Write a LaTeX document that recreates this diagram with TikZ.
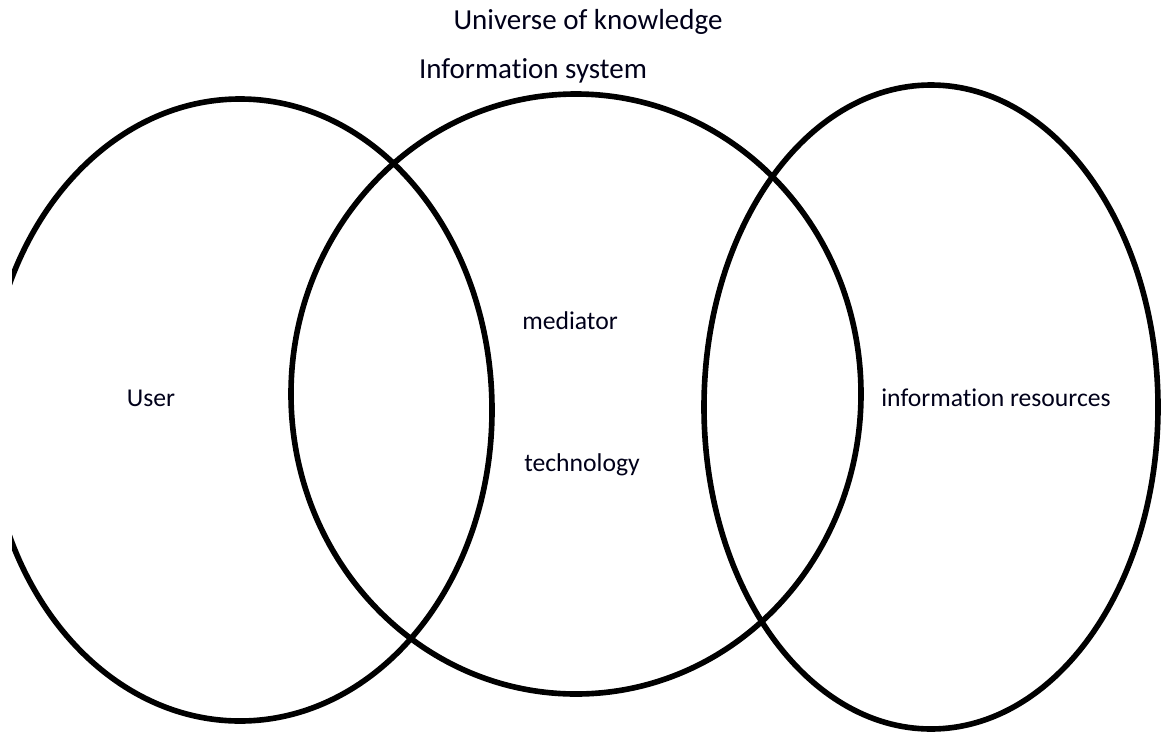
\documentclass[tikz,border=0pt]{standalone}
\usepackage{fontspec}
\setmainfont{Carlito}[Ligatures=NoCommon]
\usepackage{tikz}
\tikzset{
  ring/.style={draw=black,line width=3.2pt},
  label big/.style={font=\fontsize{16.5pt}{19pt}\selectfont,text=black!90!blue,inner sep=0pt},
  label small/.style={font=\fontsize{14.6pt}{17pt}\selectfont,text=black!90!blue,inner sep=0pt}
}
\begin{document}
\begin{tikzpicture}[x=0.02cm,y=-0.02cm]
        \useasboundingbox (0,0) rectangle (1163,734);
        \begin{scope}
            \clip (12,0) rectangle (1163,734);
            \draw[ring] (240,410) ellipse [x radius=252, y radius=311];
        \end{scope}
        \draw[ring] (576,394) ellipse [x radius=285, y radius=300];
        \draw[ring] (931,407) ellipse [x radius=227, y radius=322];

        \begin{scope}[every node/.style={label small}]
            \node[label big] (universe) at (588, 22) {Universe of knowledge};
            \node[label big] (system) at (533, 71) {Information system};
            \node (user) at (151, 398) {User};
            \node (mediator) at (570, 321) {mediator};
            \node (technology) at (582, 465) {technology};
            \node (resources) at (996, 398) {information resources};
        \end{scope}
    \end{tikzpicture}
\end{document}
